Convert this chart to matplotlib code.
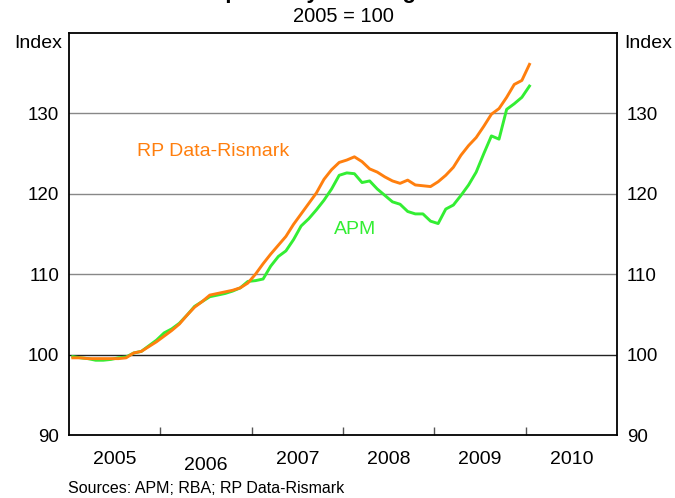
import numpy as np
import pandas as pd
import matplotlib
matplotlib.use('Agg')
import matplotlib.pyplot as plt
import matplotlib.transforms as mtransforms

plt.rcParams['font.family'] = ['Liberation Sans', 'DejaVu Sans']

# monthly index, Jan 2005 - Jan 2010 (2005 = 100)
months = pd.date_range('2005-01-01', '2010-01-01', freq='MS')
rp_data = [99.6, 99.6, 99.5, 99.5, 99.5, 99.5, 99.5, 99.6, 100.2, 100.4,
           101.0, 101.6, 102.3, 103.0, 103.8, 104.9, 105.9, 106.6, 107.4, 107.6,
           107.8, 108.0, 108.3, 108.9, 110.0, 111.3, 112.5, 113.6, 114.7, 116.2,
           117.5, 118.8, 120.1, 121.8, 123.0, 123.9, 124.2, 124.6, 124.0, 123.1,
           122.7, 122.1, 121.6, 121.3, 121.7, 121.1, 121.0, 120.9, 121.5, 122.3,
           123.3, 124.8, 126.0, 127.0, 128.4, 129.9, 130.6, 132.0, 133.6, 134.1,
           136.1]
apm = [99.75, 99.6, 99.5, 99.3, 99.3, 99.4, 99.6, 99.7, 100.2, 100.4,
       101.1, 101.8, 102.7, 103.2, 103.9, 104.9, 106.0, 106.6, 107.2, 107.4,
       107.6, 107.9, 108.3, 109.1, 109.2, 109.4, 111.0, 112.2, 112.9, 114.3,
       116.0, 116.9, 118.0, 119.2, 120.6, 122.3, 122.6, 122.5, 121.4, 121.6,
       120.6, 119.8, 119.0, 118.7, 117.8, 117.5, 117.5, 116.6, 116.3, 118.1,
       118.6, 119.8, 121.1, 122.7, 125.0, 127.2, 126.8, 130.5, 131.2, 132.0,
       133.4]
years = [2005, 2006, 2007, 2008, 2009, 2010]
yticks = [90, 100, 110, 120, 130]

# decimal year, mid month
t = months.year + (months.month - 0.5) / 12

fig = plt.figure(figsize=(6.75, 4.98), dpi=100)
ax = fig.add_axes([69/675, 1-435/498, 548/675, 402/498])

for y in [110, 120, 130]:
    ax.axhline(y, color='#888888', lw=1.0, zorder=1)
ax.axhline(100, color='#222222', lw=1.0, zorder=1)

ax.plot(t, apm, color='#33ee33', lw=2.1, zorder=3)
ax.plot(t, rp_data, color='#ff7f0e', lw=2.1, zorder=4)

ax.set_xlim(2005, 2011)
ax.set_ylim(90, 140)

ax.set_xticks(years[1:])
ax.set_xticklabels([])
ax.tick_params(axis='x', direction='in', length=6, width=1, color='#555555')
ax.set_yticks(yticks)
ax.tick_params(axis='y', length=0, labelsize=13.5, pad=7,
               left=False, right=False, labelright=True)
for s in ax.spines.values():
    s.set_linewidth(1.3)

# year labels centred on each year
trans = mtransforms.blended_transform_factory(ax.transData, ax.transAxes)
for yr in years:
    dy = -0.075 if yr == 2006 else -0.061
    ax.text(yr + 0.5, dy, str(yr), transform=trans, ha='center', va='center',
            fontsize=14)

ax.text(-0.013, 0.975, 'Index', transform=ax.transAxes, ha='right',
        va='center', fontsize=14)
ax.text(1.013, 0.975, 'Index', transform=ax.transAxes, ha='left',
        va='center', fontsize=14)

ax.text(2005.745, 125.2, 'RP Data-Rismark', color='#ff7f0e', fontsize=14,
        va='center')
ax.text(2007.90, 115.6, 'APM', color='#33ee33', fontsize=14, va='center')

# title sits mostly above the top edge, as in the reference
fig.text(343/675, 1 + 2/498, 'Capital City Dwelling Prices', ha='center',
         va='baseline', fontsize=16, fontweight='bold')
fig.text(343/675, 1 - 17/498, '2005 = 100', ha='center', va='center',
         fontsize=14.5)
fig.text(68/675, 1 - 488/498, 'Sources: APM; RBA; RP Data-Rismark',
         ha='left', va='center', fontsize=11.5)

fig.savefig('out.png', dpi=100)
